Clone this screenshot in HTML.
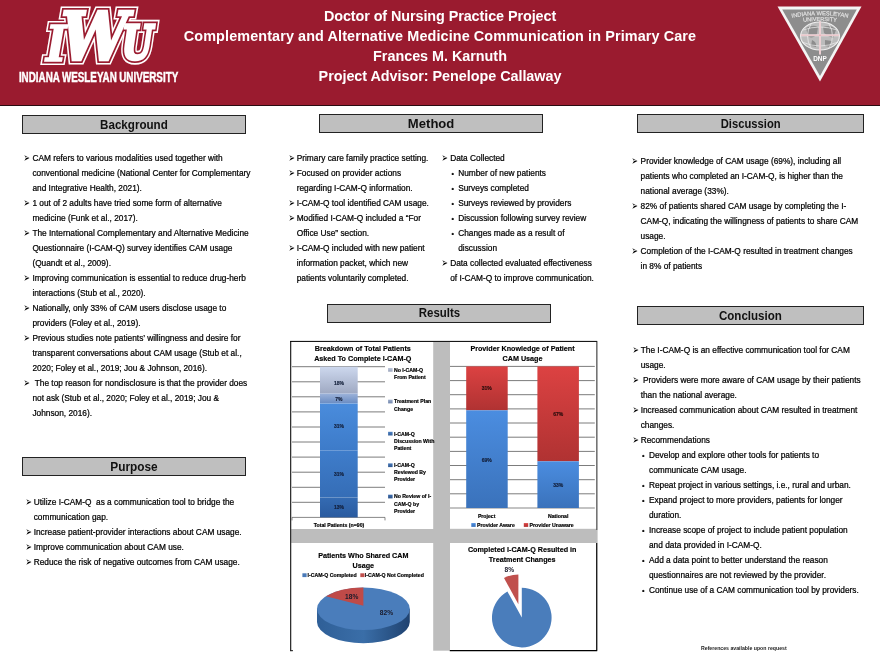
<!DOCTYPE html>
<html lang="en">
<head>
<meta charset="utf-8">
<title>Doctor of Nursing Practice Project</title>
<style>
html,body{margin:0;padding:0;background:#fff;}
body{width:880px;height:661px;position:relative;overflow:hidden;font-family:"Liberation Sans",sans-serif;color:#000;}
.abs{position:absolute;}
#hdr{left:0;top:0;width:880px;height:105.3px;background:#9a1b2f;border-bottom:1.4px solid #2a0a10;box-sizing:content-box;}
.ttl{position:absolute;left:0;width:880px;text-align:center;color:#fff;font-weight:bold;font-size:14.4px;line-height:20px;white-space:nowrap;}
.sec{position:absolute;box-sizing:border-box;background:#bfbfbf;border:1px solid #222;text-align:center;font-weight:bold;font-size:13px;color:#111;white-space:nowrap;}
.sec span{display:inline-block;transform:scaleX(0.9);transform-origin:50% 50%;position:relative;top:0.7px;}
.txt{position:absolute;font-size:8.32px;line-height:15px;white-space:nowrap;color:#000;-webkit-text-stroke:0.22px #000;}
.txt div{position:relative;height:15px;}
.txt .b::before{content:"\27A2";position:absolute;left:-9.2px;top:0.4px;font-family:"DejaVu Sans",sans-serif;font-size:8.6px;-webkit-text-stroke:0;transform:scale(0.88,1.45);transform-origin:50% 50%;}
.txt .d::before{content:"\2022";position:absolute;left:1.4px;top:0;font-size:7.2px;}
</style>
</head>
<body>
<div id="hdr" class="abs"></div>
<div class="ttl" style="top:6.4px;letter-spacing:-0.085px;">Doctor of Nursing Practice Project</div>
<div class="ttl" style="top:26.4px;letter-spacing:0.11px;">Complementary and Alternative Medicine Communication in Primary Care</div>
<div class="ttl" style="top:46.4px;letter-spacing:-0.03px;">Frances M. Karnuth</div>
<div class="ttl" style="top:66.4px;letter-spacing:-0.04px;">Project Advisor: Penelope Callaway</div>
<svg class="abs" style="left:0;top:0;" width="200" height="100" viewBox="0 0 200 100">
  <g font-family="'DejaVu Serif Condensed','DejaVu Serif','Liberation Serif',serif" font-weight="bold" font-style="italic" stroke-linejoin="miter" stroke-miterlimit="3">
    <g fill="#fff" stroke="#fff"><text x="46.1" y="60.5" font-size="48.4" stroke-width="8">I</text><text x="61.0" y="60.1" font-size="66.4" stroke-width="9.2">W</text><text transform="translate(122.0 59.4) scale(0.84 1)" x="0" y="0" font-size="46.5" stroke-width="10.6">U</text></g>
    <g fill="#9a1b2f" stroke="#9a1b2f"><text x="46.1" y="60.5" font-size="48.4" stroke-width="5">I</text><text x="61.0" y="60.1" font-size="66.4" stroke-width="6.1">W</text><text transform="translate(122.0 59.4) scale(0.84 1)" x="0" y="0" font-size="46.5" stroke-width="7.2">U</text></g>
    <g fill="#fff" stroke="#fff"><text x="46.1" y="60.5" font-size="48.4" stroke-width="1.6">I</text><text x="61.0" y="60.1" font-size="66.4" stroke-width="2.6">W</text><text transform="translate(122.0 59.4) scale(0.84 1)" x="0" y="0" font-size="46.5" stroke-width="3.4">U</text></g>
  </g>
  <text x="18.9" y="82.3" font-family="'Liberation Sans',sans-serif" font-weight="bold" font-size="14.3" fill="#fff" stroke="#fff" stroke-width="0.45" word-spacing="-0.4" textLength="159.3" lengthAdjust="spacingAndGlyphs">INDIANA WESLEYAN UNIVERSITY</text>
</svg>
<svg class="abs" style="left:770px;top:0;" width="100" height="90" viewBox="770 0 100 90">
  <polygon points="777.5,6.6 861.5,6.6 820,81.5" fill="#f4f4f4"/>
  <polygon points="782.2,9.4 856.8,9.4 820,76" fill="#8d8d8d"/>
  <ellipse cx="820" cy="36" rx="19.4" ry="14" fill="#bcbcbc" stroke="#f0f0f0" stroke-width="1.1"/>
  <path d="M806 28 Q813 24 818 27 L817 34 Q812 40 808 36 Z M823 27 Q832 24 836 30 L833 38 Q827 36 824 33 Z M812 40 Q817 42 816 47 L811 46 Z M825 40 L832 41 L830 47 L825 46 Z" fill="#8d8d8d"/>
  <path d="M803 30 Q820 24 837 30 M802 42 Q820 50 838 42 M811 24 Q804 36 811 48 M829 24 Q836 36 829 48" fill="none" stroke="#ececec" stroke-width="0.7"/>
  <path d="M820 21.2 V54.5 M800.5 35.2 H839.5" stroke="#f6e9ea" stroke-width="1.9" fill="none"/>
  <path d="M820 21.6 V54 M801 35.2 H839" stroke="#c64a5b" stroke-width="0.3" fill="none"/>
  <defs>
    <path id="arc1" d="M786 19 Q820 11.4 854 19"/>
    <path id="arc2" d="M798 22.3 Q820 19.6 842 22.3"/>
  </defs>
  <g font-family="'Liberation Sans',sans-serif" fill="#e4e4e4" text-anchor="middle" stroke="#e4e4e4" stroke-width="0.15">
    <text font-size="5.8"><textPath href="#arc1" startOffset="50%">INDIANA WESLEYAN</textPath></text>
    <text font-size="5.6"><textPath href="#arc2" startOffset="50%">UNIVERSITY</textPath></text>
  </g>
  <text x="820" y="60.6" font-family="'Liberation Sans',sans-serif" font-weight="bold" font-size="6.4" fill="#fff" text-anchor="middle">DNP</text>
</svg>

<div class="sec" style="left:22px;top:115px;width:224px;height:19px;line-height:16px;"><span style="transform:scaleX(0.894)">Background</span></div>
<div class="sec" style="left:22px;top:457.3px;width:224px;height:19px;line-height:16px;"><span style="transform:scaleX(0.911)">Purpose</span></div>
<div class="sec" style="left:319px;top:114.3px;width:223.5px;height:19px;line-height:16px;"><span style="transform:scaleX(1.006)">Method</span></div>
<div class="sec" style="left:327px;top:303.6px;width:224px;height:19px;line-height:16px;"><span style="transform:scaleX(0.881)">Results</span></div>
<div class="sec" style="left:637px;top:114px;width:227px;height:19px;line-height:16px;"><span style="transform:scaleX(0.8625)">Discussion</span></div>
<div class="sec" style="left:637px;top:306.4px;width:227px;height:19px;line-height:16px;"><span style="transform:scaleX(0.89)">Conclusion</span></div>

<div class="txt" style="left:32.4px;top:150.5px;">
<div class="b">CAM refers to various modalities used together with</div>
<div>conventional medicine (National Center for Complementary</div>
<div>and Integrative Health, 2021).</div>
<div class="b">1 out of 2 adults have tried some form of alternative</div>
<div>medicine (Funk et al., 2017).</div>
<div class="b">The International Complementary and Alternative Medicine</div>
<div>Questionnaire (I-CAM-Q) survey identifies CAM usage</div>
<div>(Quandt et al., 2009).</div>
<div class="b">Improving communication is essential to reduce drug-herb</div>
<div>interactions (Stub et al., 2020).</div>
<div class="b">Nationally, only 33% of CAM users disclose usage to</div>
<div>providers (Foley et al., 2019).</div>
<div class="b">Previous studies note patients’ willingness and desire for</div>
<div>transparent conversations about CAM usage (Stub et al.,</div>
<div>2020; Foley et al., 2019; Jou &amp; Johnson, 2016).</div>
<div class="b"> The top reason for nondisclosure is that the provider does</div>
<div>not ask (Stub et al., 2020; Foley et al., 2019; Jou &amp;</div>
<div>Johnson, 2016).</div>
</div>
<div class="txt" style="left:33.7px;top:495px;">
<div class="b">Utilize I-CAM-Q  as a communication tool to bridge the</div>
<div>communication gap.</div>
<div class="b">Increase patient-provider interactions about CAM usage.</div>
<div class="b">Improve communication about CAM use.</div>
<div class="b">Reduce the risk of negative outcomes from CAM usage.</div>
</div>
<div class="txt" style="left:296.7px;top:150.6px;">
<div class="b">Primary care family practice setting.</div>
<div class="b">Focused on provider actions</div>
<div>regarding I-CAM-Q information.</div>
<div class="b">I-CAM-Q tool identified CAM usage.</div>
<div class="b">Modified I-CAM-Q included a “For</div>
<div>Office Use” section.</div>
<div class="b">I-CAM-Q included with new patient</div>
<div>information packet, which new</div>
<div>patients voluntarily completed.</div>
</div>
<div class="txt" style="left:450.2px;top:150.6px;">
<div class="b">Data Collected</div>
<div class="d" style="padding-left:8px">Number of new patients</div>
<div class="d" style="padding-left:8px">Surveys completed</div>
<div class="d" style="padding-left:8px">Surveys reviewed by providers</div>
<div class="d" style="padding-left:8px">Discussion following survey review</div>
<div class="d" style="padding-left:8px">Changes made as a result of</div>
<div style="padding-left:8px">discussion</div>
<div class="b">Data collected evaluated effectiveness</div>
<div>of I-CAM-Q to improve communication.</div>
</div>
<div class="txt" style="left:640.6px;top:153.7px;">
<div class="b">Provider knowledge of CAM usage (69%), including all</div>
<div>patients who completed an I-CAM-Q, is higher than the</div>
<div>national average (33%).</div>
<div class="b">82% of patients shared CAM usage by completing the I-</div>
<div>CAM-Q, indicating the willingness of patients to share CAM</div>
<div>usage.</div>
<div class="b">Completion of the I-CAM-Q resulted in treatment changes</div>
<div>in 8% of patients</div>
</div>
<div class="txt" style="left:640.7px;top:342.8px;">
<div class="b">The I-CAM-Q is an effective communication tool for CAM</div>
<div>usage.</div>
<div class="b"> Providers were more aware of CAM usage by their patients</div>
<div>than the national average.</div>
<div class="b">Increased communication about CAM resulted in treatment</div>
<div>changes.</div>
<div class="b">Recommendations</div>
<div class="d" style="padding-left:8.3px">Develop and explore other tools for patients to</div>
<div style="padding-left:8.3px">communicate CAM usage.</div>
<div class="d" style="padding-left:8.3px">Repeat project in various settings, i.e., rural and urban.</div>
<div class="d" style="padding-left:8.3px">Expand project to more providers, patients for longer</div>
<div style="padding-left:8.3px">duration.</div>
<div class="d" style="padding-left:8.3px">Increase scope of project to include patient population</div>
<div style="padding-left:8.3px">and data provided in I-CAM-Q.</div>
<div class="d" style="padding-left:8.3px">Add a data point to better understand the reason</div>
<div style="padding-left:8.3px">questionnaires are not reviewed by the provider.</div>
<div class="d" style="padding-left:8.3px">Continue use of a CAM communication tool by providers.</div>
</div>
<div class="abs" style="left:701px;top:645px;font-size:5.2px;font-weight:bold;line-height:7px;white-space:nowrap;color:#222;">References available upon request</div>
<!--CHARTS_START-->
<svg class="abs" style="left:280px;top:335px;" width="325" height="320" viewBox="280 335 325 320" font-family="'Liberation Sans',sans-serif">
<defs>
<linearGradient id="g1" x1="0" y1="0" x2="0" y2="1"><stop offset="0" stop-color="#cdd8ee"/><stop offset="1" stop-color="#9fa9c2"/></linearGradient>
<linearGradient id="g2" x1="0" y1="0" x2="0" y2="1"><stop offset="0" stop-color="#9db3da"/><stop offset="1" stop-color="#6a8cc2"/></linearGradient>
<linearGradient id="g3" x1="0" y1="0" x2="0" y2="1"><stop offset="0" stop-color="#4a8cdc"/><stop offset="1" stop-color="#3d7bc9"/></linearGradient>
<linearGradient id="g4" x1="0" y1="0" x2="0" y2="1"><stop offset="0" stop-color="#3f7dcb"/><stop offset="1" stop-color="#356db6"/></linearGradient>
<linearGradient id="g5" x1="0" y1="0" x2="0" y2="1"><stop offset="0" stop-color="#346bb3"/><stop offset="1" stop-color="#2a5b9f"/></linearGradient>
<linearGradient id="gb" x1="0" y1="0" x2="0" y2="1"><stop offset="0" stop-color="#4b8de0"/><stop offset="1" stop-color="#3a72bb"/></linearGradient>
<linearGradient id="gr" x1="0" y1="0" x2="0" y2="1"><stop offset="0" stop-color="#dc4242"/><stop offset="1" stop-color="#b03232"/></linearGradient>
<linearGradient id="gs" x1="0" y1="0" x2="1" y2="0"><stop offset="0" stop-color="#2f5f97"/><stop offset="0.5" stop-color="#3a6ea8"/><stop offset="1" stop-color="#1f4270"/></linearGradient>
<linearGradient id="g1l" x1="0" y1="0" x2="0" y2="1"><stop offset="0" stop-color="#bcc6dc"/><stop offset="1" stop-color="#9aa3ba"/></linearGradient>
<linearGradient id="g2l" x1="0" y1="0" x2="0" y2="1"><stop offset="0" stop-color="#9aabc9"/><stop offset="1" stop-color="#7186ad"/></linearGradient>
<linearGradient id="g3l" x1="0" y1="0" x2="0" y2="1"><stop offset="0" stop-color="#4a7fc2"/><stop offset="1" stop-color="#35609a"/></linearGradient>
<linearGradient id="g4l" x1="0" y1="0" x2="0" y2="1"><stop offset="0" stop-color="#4475b6"/><stop offset="1" stop-color="#315a92"/></linearGradient>
<linearGradient id="g5l" x1="0" y1="0" x2="0" y2="1"><stop offset="0" stop-color="#3d6cab"/><stop offset="1" stop-color="#2c528a"/></linearGradient>
</defs>
<rect x="291" y="341.5" width="306.6" height="309.2" fill="#bdbdbd"/>
<rect x="291.2" y="342" width="142" height="187" fill="#fff"/>
<rect x="450" y="342" width="146.5" height="186.8" fill="#fff"/>
<rect x="291.2" y="543" width="142" height="108" fill="#fff"/>
<rect x="450" y="543" width="146.5" height="107.6" fill="#fff"/>
<path d="M290.7 341 V651.2 M290.2 341.4 H597.2" stroke="#000" stroke-width="1" fill="none"/>
<path d="M596.8 341.4 V530" stroke="#222" stroke-width="0.8" fill="none"/>
<path d="M596.7 543 V651 M449.8 650.6 H597.2" stroke="#000" stroke-width="1.1" fill="none"/>
<path d="M290.7 650.7 H293" stroke="#000" stroke-width="0.9" fill="none"/>
<path d="M292 366.7 H385" stroke="#505050" stroke-width="0.75" fill="none"/>
<path d="M292 381.8 H385" stroke="#505050" stroke-width="0.75" fill="none"/>
<path d="M292 396.8 H385" stroke="#505050" stroke-width="0.75" fill="none"/>
<path d="M292 411.9 H385" stroke="#505050" stroke-width="0.75" fill="none"/>
<path d="M292 427.0 H385" stroke="#505050" stroke-width="0.75" fill="none"/>
<path d="M292 442.0 H385" stroke="#505050" stroke-width="0.75" fill="none"/>
<path d="M292 457.1 H385" stroke="#505050" stroke-width="0.75" fill="none"/>
<path d="M292 472.2 H385" stroke="#505050" stroke-width="0.75" fill="none"/>
<path d="M292 487.3 H385" stroke="#505050" stroke-width="0.75" fill="none"/>
<path d="M292 502.3 H385" stroke="#505050" stroke-width="0.75" fill="none"/>
<path d="M292 520.4 V517.4 H385 V520.4" stroke="#555" stroke-width="0.7" fill="none"/>
<rect x="320" y="366.7" width="37.7" height="26.8" fill="url(#g1)"/>
<rect x="320" y="393.5" width="37.7" height="9.9" fill="url(#g2)"/>
<rect x="320" y="403.5" width="37.7" height="46.9" fill="url(#g3)"/>
<rect x="320" y="450.4" width="37.7" height="46.9" fill="url(#g4)"/>
<rect x="320" y="497.4" width="37.7" height="20.0" fill="url(#g5)"/>
<g font-weight="bold" fill="#000" stroke="#000" stroke-width="0.15" text-anchor="middle" font-size="7.2">
<text x="362.8" y="351.2">Breakdown of Total Patients</text>
<text x="362.8" y="361.1">Asked To Complete I-CAM-Q</text>
<text x="522.5" y="350.9">Provider Knowledge of Patient</text>
<text x="522.5" y="360.7">CAM Usage</text>
<text x="363.3" y="557.9">Patients Who Shared CAM</text>
<text x="363.3" y="567.8">Usage</text>
<text x="522.2" y="552.3">Completed I-CAM-Q Resulted in</text>
<text x="522.2" y="562.2">Treatment Changes</text>
</g>
<g font-weight="bold" fill="#131f3a" stroke="#131f3a" stroke-width="0.15" text-anchor="middle" font-size="5">
<text x="338.9" y="384.5">18%</text>
<text x="338.9" y="400.8">7%</text>
<text x="338.9" y="428.4">31%</text>
<text x="338.9" y="475.8">31%</text>
<text x="338.9" y="508.7">13%</text>
<text x="486.7" y="462.1">69%</text>
<text x="558.2" y="487.0">33%</text>
</g>
<g font-weight="bold" fill="#2a0c0c" stroke="#2a0c0c" stroke-width="0.15" text-anchor="middle" font-size="5">
<text x="486.7" y="390.1">31%</text>
<text x="558.2" y="415.7">67%</text>
</g>
<g font-weight="bold" fill="#000" stroke="#000" stroke-width="0.18" font-size="5.2">
<text x="339" y="526.9" text-anchor="middle">Total Patients (n=90)</text>
<text x="394" y="371.7">No I-CAM-Q</text>
<rect x="388.1" y="368.0" width="4.5" height="3.7" stroke="none" fill="url(#g1l)"/>
<text x="394" y="379.0">From Patient</text>
<text x="394" y="403.4">Treatment Plan</text>
<rect x="388.1" y="399.7" width="4.5" height="3.7" stroke="none" fill="url(#g2l)"/>
<text x="394" y="411.1">Change</text>
<text x="394" y="435.5">I-CAM-Q</text>
<rect x="388.1" y="431.8" width="4.5" height="3.7" stroke="none" fill="url(#g3l)"/>
<text x="394" y="442.8">Discussion With</text>
<text x="394" y="450.1">Patient</text>
<text x="394" y="467.1">I-CAM-Q</text>
<rect x="388.1" y="463.4" width="4.5" height="3.7" stroke="none" fill="url(#g4l)"/>
<text x="394" y="474.1">Reviewed By</text>
<text x="394" y="481.1">Provider</text>
<text x="394" y="498.4">No Review of I-</text>
<rect x="388.1" y="494.7" width="4.5" height="3.7" stroke="none" fill="url(#g5l)"/>
<text x="394" y="505.8">CAM-Q by</text>
<text x="394" y="512.7">Provider</text>
<text x="486.7" y="517.9" text-anchor="middle">Project</text>
<text x="558.2" y="517.9" text-anchor="middle">National</text>
<rect x="471.3" y="523.1" width="4.4" height="3.8" stroke="none" fill="url(#gb)"/><text x="477" y="526.9">Provider Aware</text>
<rect x="523.8" y="523.1" width="4.4" height="3.8" stroke="none" fill="url(#gr)"/><text x="529.6" y="526.9">Provider Unaware</text>
<rect x="302.4" y="573.3" width="4.2" height="3.8" stroke="none" fill="#4a7ab8"/><text x="307.6" y="577.1">I-CAM-Q Completed</text>
<rect x="360.3" y="573.3" width="4.2" height="3.8" stroke="none" fill="#c0504d"/><text x="364.8" y="577.1">I-CAM-Q Not Completed</text>
</g>
<path d="M450 366.4 H594.8" stroke="#505050" stroke-width="0.75" fill="none"/>
<path d="M450 380.6 H594.8" stroke="#505050" stroke-width="0.75" fill="none"/>
<path d="M450 394.7 H594.8" stroke="#505050" stroke-width="0.75" fill="none"/>
<path d="M450 408.9 H594.8" stroke="#505050" stroke-width="0.75" fill="none"/>
<path d="M450 423.0 H594.8" stroke="#505050" stroke-width="0.75" fill="none"/>
<path d="M450 437.2 H594.8" stroke="#505050" stroke-width="0.75" fill="none"/>
<path d="M450 451.4 H594.8" stroke="#505050" stroke-width="0.75" fill="none"/>
<path d="M450 465.5 H594.8" stroke="#505050" stroke-width="0.75" fill="none"/>
<path d="M450 479.7 H594.8" stroke="#505050" stroke-width="0.75" fill="none"/>
<path d="M450 493.8 H594.8" stroke="#505050" stroke-width="0.75" fill="none"/>
<path d="M450 508.0 H594.8" stroke="#555" stroke-width="0.7" fill="none"/>
<rect x="466.2" y="366.4" width="41.5" height="43.9" fill="url(#gr)"/>
<rect x="466.2" y="410.3" width="41.5" height="97.7" fill="url(#gb)"/>
<rect x="537.4" y="366.4" width="41.5" height="94.9" fill="url(#gr)"/>
<rect x="537.4" y="461.3" width="41.5" height="46.7" fill="url(#gb)"/>
<g font-weight="bold" fill="#131f3a" stroke="#131f3a" stroke-width="0.15" text-anchor="middle" font-size="5">
<text x="486.7" y="462.1">69%</text>
<text x="558.2" y="487.0">33%</text>
</g>
<g font-weight="bold" fill="#2a0c0c" stroke="#2a0c0c" stroke-width="0.15" text-anchor="middle" font-size="5">
<text x="486.7" y="390.1">31%</text>
<text x="558.2" y="415.7">67%</text>
</g>
<path d="M317.0 608.8 V622.0 A46.4 21.2 0 0 0 409.79999999999995 622.0 V608.8 Z" fill="url(#gs)"/>
<ellipse cx="363.4" cy="608.8" rx="46.4" ry="21.2" fill="#4a7dbb"/>
<path d="M363.4 605.8 L363.4 587.5999999999999 A46.4 21.2 0 0 0 325.9 596.3 Z" fill="#bf4a48"/>
<g font-weight="bold" fill="#1a1a2a" text-anchor="middle" font-size="6.6">
<text x="351.7" y="599.4">18%</text><text x="386.4" y="614.6">82%</text>
<text x="509.3" y="572">8%</text>
</g>
<path d="M521.8 617.6 L521.8 587.8000000000001 A29.8 29.8 0 1 1 507.4 591.5 Z" fill="#4a7dbb"/>
<path d="M518.4 604.2 L518.4 574.4 A29.8 29.8 0 0 0 504.0 578.1 Z" fill="#c0504d"/>
</svg>
<!--CHARTS_END-->
</body>
</html>
